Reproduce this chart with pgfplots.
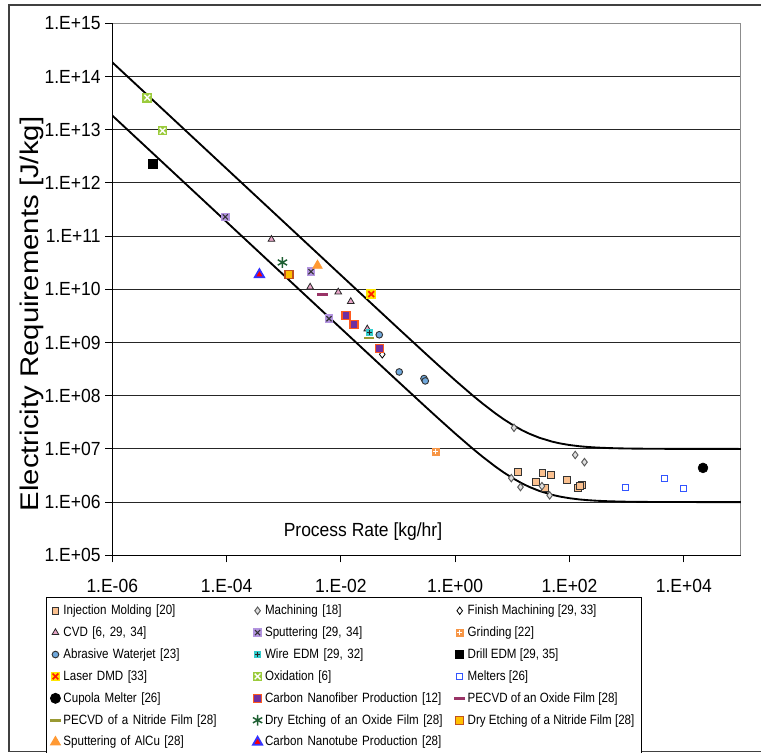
\documentclass[border=0pt]{standalone}
\usepackage{fontspec}
\setmainfont{Liberation Sans}[FakeStretch=0.92]
\newfontfamily\labelfont{Liberation Sans}
\newfontfamily\legfont{Liberation Sans}[FakeStretch=0.86]
\usepackage{graphicx}
\usepackage{pgfplots}
\pgfplotsset{compat=1.18}

\definecolor{injfill}{HTML}{FAC08F}
\definecolor{cvdfill}{HTML}{E7A6C8}
\definecolor{sputfill}{HTML}{B394E0}
\definecolor{grindfill}{HTML}{F79646}
\definecolor{wjfill}{HTML}{6FA8DC}
\definecolor{wirefill}{HTML}{33CCCC}
\definecolor{laserfill}{HTML}{FFE600}
\definecolor{laserx}{HTML}{FF2000}
\definecolor{oxfill}{HTML}{9BCB3C}
\definecolor{meltblue}{HTML}{3355FF}
\definecolor{cnffill}{HTML}{7030A0}
\definecolor{cnfdraw}{HTML}{FF5A1E}
\definecolor{pecvdox}{HTML}{993366}
\definecolor{pecvdni}{HTML}{999933}
\definecolor{etchox}{HTML}{1E5F32}
\definecolor{etchnifill}{HTML}{FFC000}
\definecolor{etchnidraw}{HTML}{C0501E}
\definecolor{alcu}{HTML}{FF9933}
\definecolor{cntblue}{HTML}{3333FF}

% filled square with an x / a plus on top
\pgfdeclareplotmark{sqx}{%
  \pgfpathrectangle{\pgfqpoint{-\pgfplotmarksize}{-\pgfplotmarksize}}{\pgfqpoint{2\pgfplotmarksize}{2\pgfplotmarksize}}%
  \pgfusepathqfill
  \pgfpathmoveto{\pgfqpoint{-0.6\pgfplotmarksize}{-0.6\pgfplotmarksize}}%
  \pgfpathlineto{\pgfqpoint{0.6\pgfplotmarksize}{0.6\pgfplotmarksize}}%
  \pgfpathmoveto{\pgfqpoint{-0.6\pgfplotmarksize}{0.6\pgfplotmarksize}}%
  \pgfpathlineto{\pgfqpoint{0.6\pgfplotmarksize}{-0.6\pgfplotmarksize}}%
  \pgfusepathqstroke}
\pgfdeclareplotmark{sqplus}{%
  \pgfpathrectangle{\pgfqpoint{-\pgfplotmarksize}{-\pgfplotmarksize}}{\pgfqpoint{2\pgfplotmarksize}{2\pgfplotmarksize}}%
  \pgfusepathqfill
  \pgfpathmoveto{\pgfqpoint{0pt}{-0.65\pgfplotmarksize}}%
  \pgfpathlineto{\pgfqpoint{0pt}{0.65\pgfplotmarksize}}%
  \pgfpathmoveto{\pgfqpoint{-0.65\pgfplotmarksize}{0pt}}%
  \pgfpathlineto{\pgfqpoint{0.65\pgfplotmarksize}{0pt}}%
  \pgfusepathqstroke}

\begin{document}
\begin{tikzpicture}
\path[use as bounding box] (0pt,0pt) rectangle (570.75pt,-564.75pt);
\draw[black!75, line width=0.8pt] (572pt,-3.75pt) -- (6.75pt,-3.75pt) -- (6.75pt,-563.8pt) -- (572pt,-563.8pt);

\begin{axis}[
    name=ax,
    at={(84.2pt,-416.5pt)}, anchor=south west,
    scale only axis,
    width=471.5pt,
    height=399pt,
    xmode=log, ymode=log,
    xmin=1e-6, xmax=1e5,
    ymin=1e5, ymax=1e15,
    xtick={1e-6,1e-4,1e-2,1,1e2,1e4},
    xticklabels={1.E-06,1.E-04,1.E-02,1.E+00,1.E+02,1.E+04},
    ytick={1e5,1e6,1e7,1e8,1e9,1e10,1e11,1e12,1e13,1e14,1e15},
    yticklabels={1.E+05,1.E+06,1.E+07,1.E+08,1.E+09,1.E+10,1.E+11,1.E+12,1.E+13,1.E+14,1.E+15},
    xminorticks=false, yminorticks=false,
    tick align=outside, tick pos=left,
    major tick length=5.25pt,
    tick style={black, line width=0.8pt},
    axis line style={black!45, line width=0.8pt},
    ymajorgrids,
    major grid style={black!85, line width=0.8pt},
    ticklabel style={font=\fontsize{14.25pt}{16pt}\selectfont},
    xticklabel style={yshift=-9pt},
    xlabel={Process Rate [kg/hr]},
    xlabel style={at={(axis description cs:0.3988,0.035)}, anchor=base, font=\fontsize{14.25pt}{16pt}\selectfont},
    ylabel={\scalebox{1}[0.87]{Electricity Requirements [J/kg]}},
    ylabel style={at={(axis description cs:-0.1277,0.4536)}, anchor=center, font=\labelfont\fontsize{22pt}{26pt}\selectfont},
    legend columns=3,
    legend image code/.code={\draw[mark repeat=2,mark phase=2] plot coordinates {(0pt,0pt) (3.5pt,0pt) (7pt,0pt)};},
    legend style={
        at={(axis description cs:-0.106,-0.0784)}, anchor=north west,
        draw=black, line width=0.75pt,
        font=\legfont\fontsize{10.1pt}{12pt}\selectfont,
        inner xsep=3pt, inner ysep=3.5pt,
        row sep=3.6pt,
        cells={anchor=west},
        /tikz/column 2/.style={text width=140pt},
        /tikz/column 4/.style={text width=140pt},
    },
]

% boundary curves
\addplot[black, line width=1.4pt, forget plot] coordinates {
(1e-6,1.85e14) (1e-4,1.85e12) (1e-2,1.851e10) (0.1,1.86e9) (0.3,6.27e8) (0.5,3.8e8)
(1,1.95e8) (2,1.025e8) (3,7.17e7) (5,4.7e7) (7,3.64e7) (10,2.85e7) (15,2.23e7)
(20,1.925e7) (30,1.617e7) (50,1.37e7) (70,1.264e7) (100,1.185e7) (150,1.123e7)
(200,1.0925e7) (300,1.062e7) (500,1.037e7) (1000,1.0185e7) (3000,1.006e7) (1e5,1e7)
};
\addplot[black, line width=1.4pt, forget plot] coordinates {
(1e-6,1.85e13) (1e-4,1.85e11) (1e-2,1.851e9) (0.1,1.86e8) (0.3,6.27e7) (0.5,3.8e7)
(1,1.95e7) (2,1.025e7) (3,7.17e6) (5,4.7e6) (7,3.64e6) (10,2.85e6) (15,2.23e6)
(20,1.925e6) (30,1.617e6) (50,1.37e6) (70,1.264e6) (100,1.185e6) (150,1.123e6)
(200,1.0925e6) (300,1.062e6) (500,1.037e6) (1000,1.0185e6) (3000,1.006e6) (1e5,1e6)
};

\addplot[only marks, mark=square*, mark size=2.6pt, mark options={fill=injfill, draw=black!80, line width=0.7pt}] coordinates {
(12.5,3.7e6) (25.5,2.4e6) (33.7,3.6e6) (47,3.3e6) (37,1.84e6) (90,2.56e6) (140,1.84e6) (167,2.1e6) (155,2.0e6)
};
\addlegendentry{Injection Molding [20]}

\addplot[only marks, mark=diamond*, mark size=2.8pt, mark options={fill=black!12, draw=black!65, line width=0.7pt}] coordinates {
(10.7,2.5e7) (126,7.7e6) (183,5.65e6) (9.6,2.83e6) (13.9,1.92e6) (33,2.0e6) (45,1.34e6)
};
\addlegendentry{Machining [18]}

\addplot[only marks, mark=diamond*, mark size=2.8pt, mark options={fill=white, draw=black, line width=0.6pt}] coordinates {
(0.053,6.0e8)
};
\addlegendentry{Finish Machining [29, 33]}

\addplot[only marks, mark=triangle*, mark size=2.9pt, mark options={fill=cvdfill, draw=black!85, line width=0.6pt}] coordinates {
(6.1e-4,8.7e10) (2.9e-3,1.1e10) (9.0e-3,8.9e9) (1.49e-2,5.9e9) (2.9e-2,1.8e9)
};
\addlegendentry{CVD [6, 29, 34]}

\addplot[only marks, mark=sqx, mark size=3.2pt, mark options={fill=sputfill, draw=black!80, line width=0.8pt}] coordinates {
(9.5e-5,2.3e11) (3.0e-3,2.15e10) (6.2e-3,2.8e9)
};
\addlegendentry{Sputtering [29, 34]}

\addplot[only marks, mark=sqplus, mark size=3pt, mark options={fill=grindfill, draw=white, line width=0.8pt}] coordinates {
(0.456,8.9e6)
};
\addlegendentry{Grinding [22]}

\addplot[only marks, mark=*, mark size=2.5pt, mark options={fill=wjfill, draw=black!80, line width=0.7pt}] coordinates {
(4.7e-2,1.4e9) (0.105,2.8e8) (0.285,2.1e8) (0.30,1.9e8)
};
\addlegendentry{Abrasive Waterjet [23]}

\addplot[only marks, mark=sqplus, mark size=2.7pt, mark options={fill=wirefill, draw=black!85, line width=0.8pt}] coordinates {
(3.2e-2,1.56e9)
};
\addlegendentry{Wire EDM [29, 32]}

\addplot[only marks, mark=square*, mark size=3.2pt, mark options={fill=black, draw=black}] coordinates {
(5.1e-6,2.3e12)
};
\addlegendentry{Drill EDM [29, 35]}

\addplot[only marks, mark=sqx, mark size=3.6pt, mark options={fill=laserfill, draw=laserx, line width=1.3pt}] coordinates {
(3.4e-2,8.1e9)
};
\addlegendentry{Laser DMD [33]}

\addplot[only marks, mark=sqx, mark size=3.6pt, mark options={fill=oxfill, draw=white, line width=1pt}] coordinates {
(4.1e-6,4.0e13) (7.6e-6,9.6e12)
};
\addlegendentry{Oxidation [6]}

\addplot[only marks, mark=square*, mark size=2.3pt, mark options={fill=white, draw=meltblue, line width=0.8pt}] coordinates {
(957,1.87e6) (4660,2.83e6) (1.0e4,1.79e6)
};
\addlegendentry{Melters [26]}

\addplot[only marks, mark=*, mark size=3.7pt, mark options={fill=black, draw=black}] coordinates {
(2.17e4,4.4e6)
};
\addlegendentry{Cupola Melter [26]}

\addplot[only marks, mark=square*, mark size=3pt, mark options={fill=cnffill, draw=cnfdraw, line width=1pt}] coordinates {
(1.23e-2,3.2e9) (1.7e-2,2.2e9) (4.8e-2,7.8e8)
};
\addlegendentry{Carbon Nanofiber Production [12]}

\addplot[only marks, mark=-, mark size=4pt, mark options={draw=pecvdox, line width=2pt}] coordinates {
(4.75e-3,8.1e9)
};
\addlegendentry{PECVD of an Oxide Film [28]}

\addplot[only marks, mark=-, mark size=4pt, mark options={draw=pecvdni, line width=2pt}] coordinates {
(3.1e-2,1.22e9)
};
\addlegendentry{PECVD of a Nitride Film [28]}

\addplot[only marks, mark=asterisk, mark size=4pt, mark options={draw=etchox, line width=1.1pt}] coordinates {
(9.5e-4,3.2e10)
};
\addlegendentry{Dry Etching of an Oxide Film [28]}

\addplot[only marks, mark=square*, mark size=3pt, mark options={fill=etchnifill, draw=etchnidraw, line width=1pt}] coordinates {
(1.24e-3,1.9e10)
};
\addlegendentry{Dry Etching of a Nitride Film [28]}

\addplot[only marks, mark=triangle*, mark size=4.2pt, mark options={fill=alcu, draw=alcu}] coordinates {
(3.9e-3,2.8e10)
};
\addlegendentry{Sputtering of AlCu [28]}

\addplot[only marks, mark=triangle*, mark size=4pt, mark options={fill=red, draw=cntblue, line width=1.3pt}] coordinates {
(3.76e-4,1.9e10)
};
\addlegendentry{Carbon Nanotube Production [28]}

\end{axis}
\draw[black, line width=0.8pt] (ax.north west) -- (ax.south west) -- (ax.south east);
\end{tikzpicture}
\end{document}
